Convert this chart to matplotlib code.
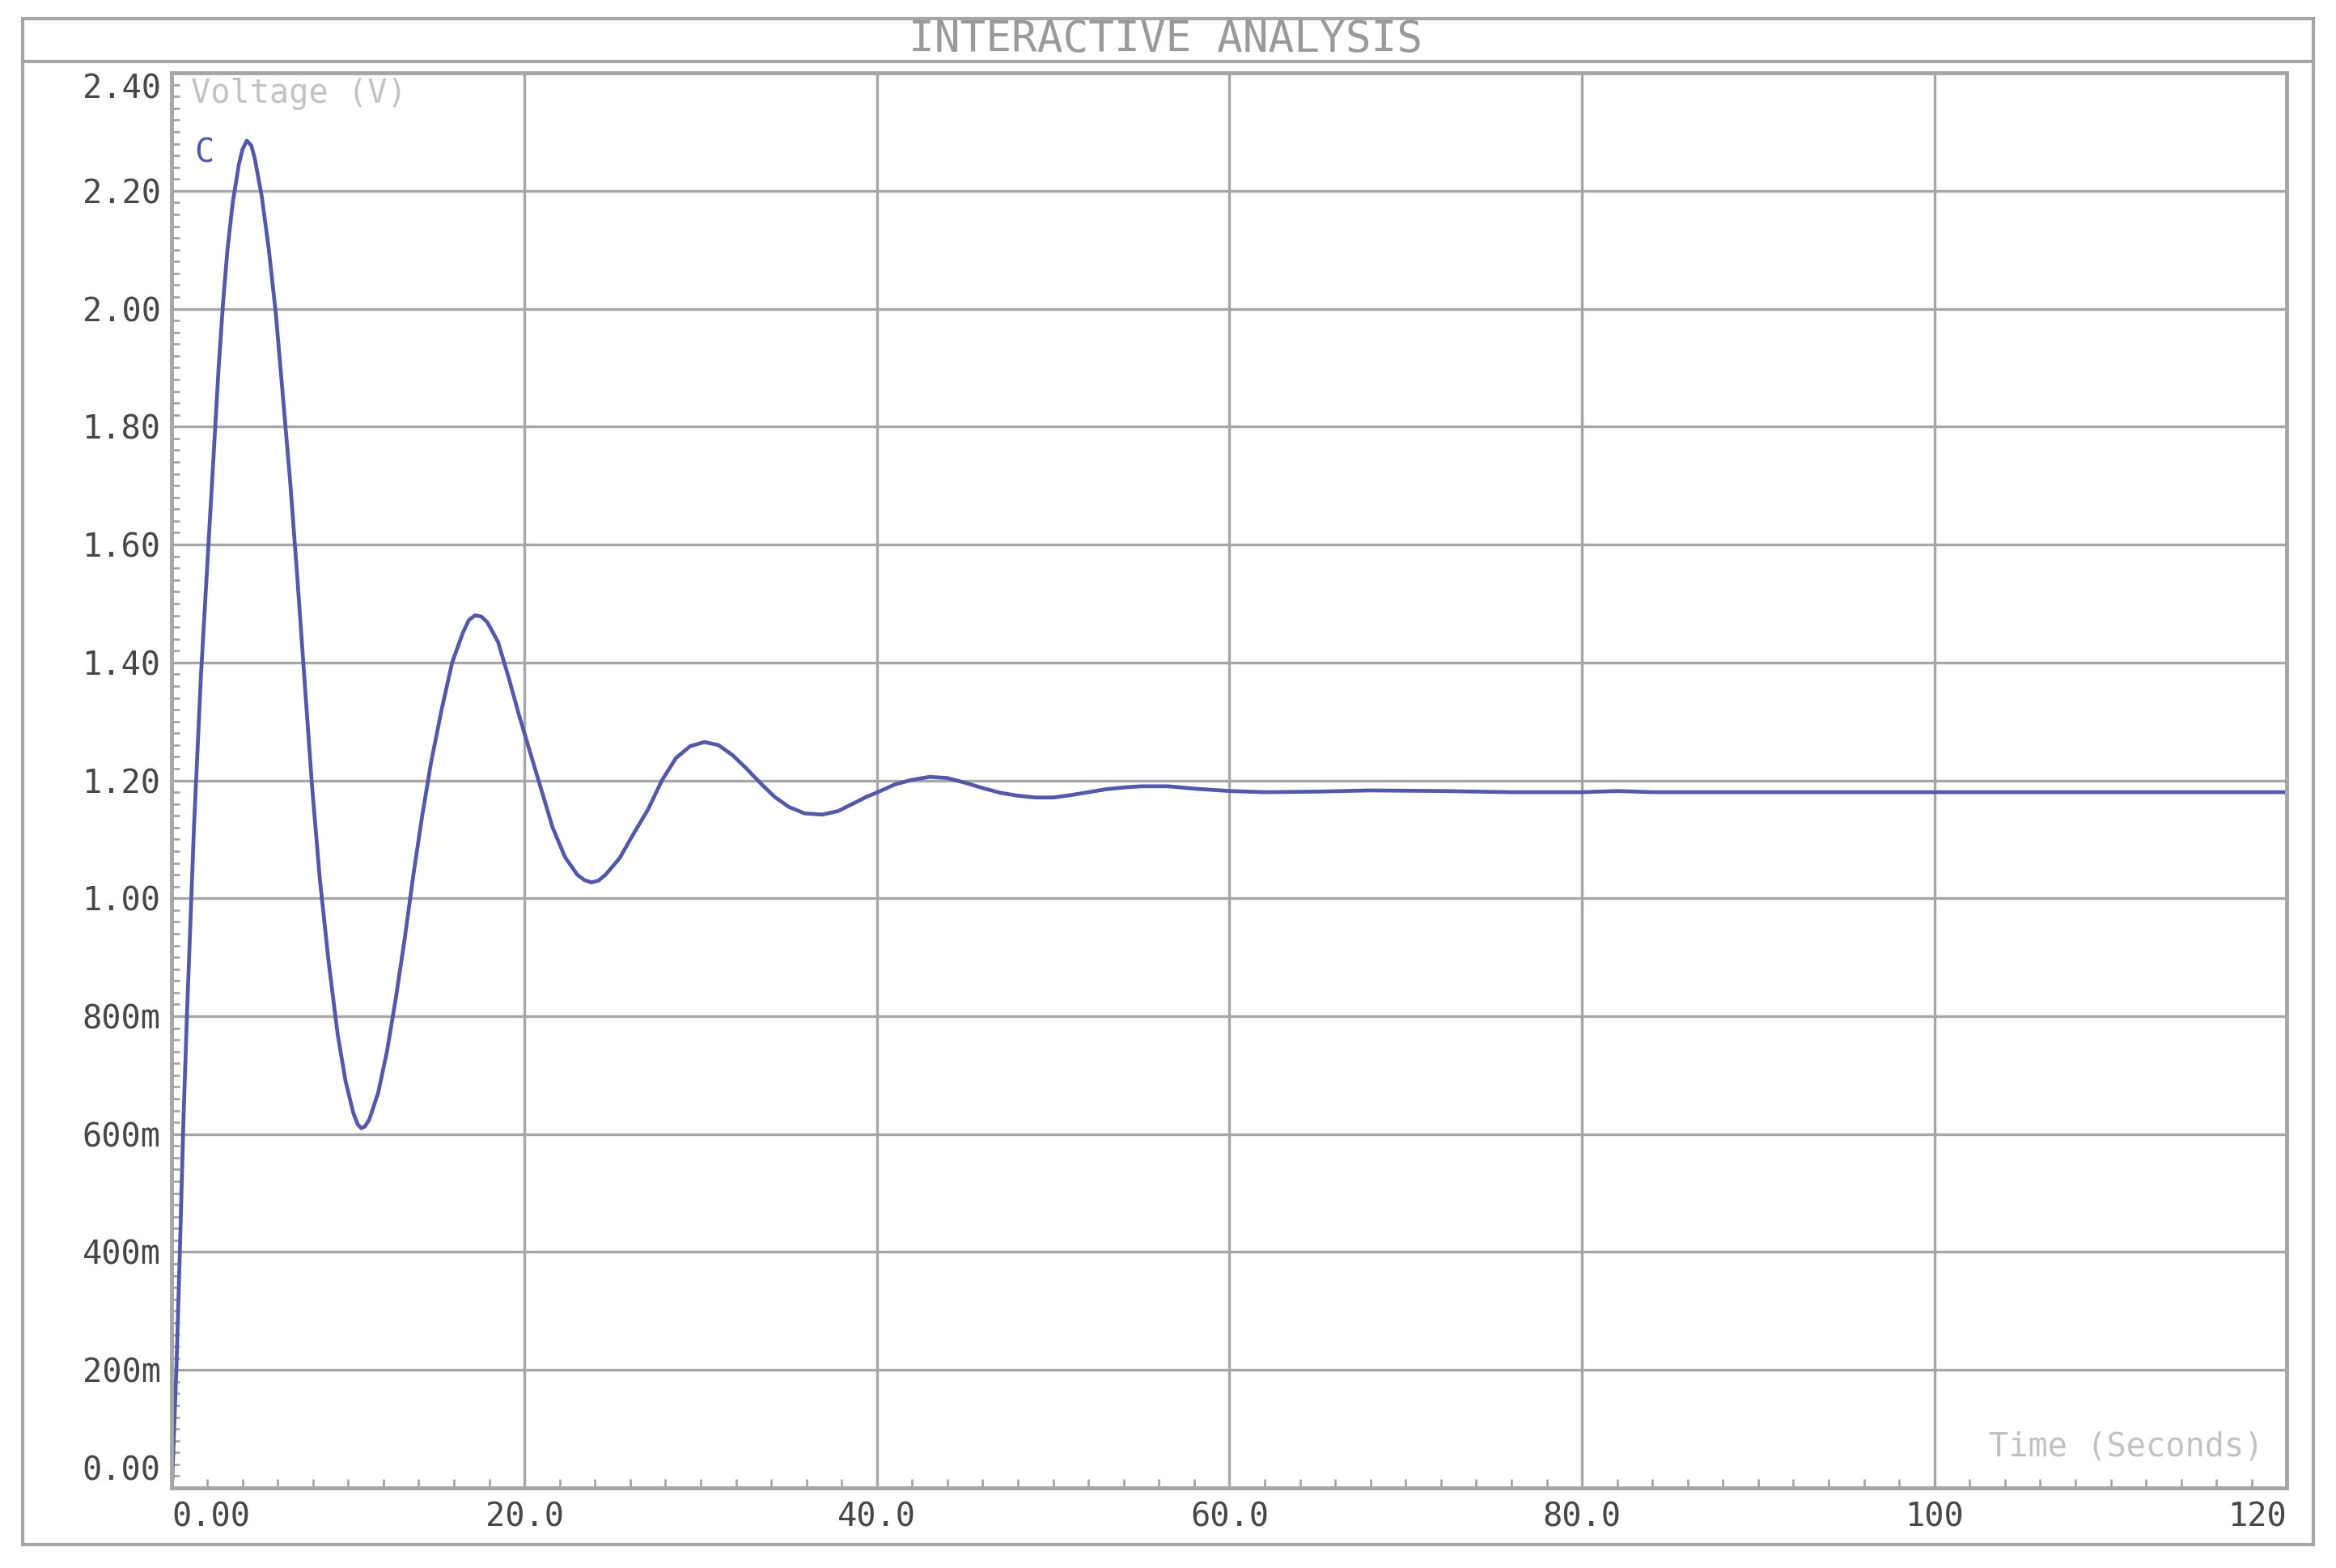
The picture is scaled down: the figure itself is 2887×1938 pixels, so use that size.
import matplotlib
matplotlib.use("Agg")
import matplotlib.pyplot as plt
from matplotlib.patches import Rectangle
from matplotlib.lines import Line2D
from matplotlib.ticker import MultipleLocator

# Datos (tiempo en s, tension en V)
tiempo = [0.0, 0.25, 0.45, 0.65, 0.85, 1.05, 1.25, 1.45, 1.65, 1.90,
          2.15, 2.40, 2.65, 2.90, 3.15, 3.45, 3.80, 4.00, 4.25, 4.50,
          4.70, 5.10,
          5.50, 5.90, 6.30, 6.70, 7.10, 7.50, 7.95, 8.40, 8.90, 9.40,
          9.85, 10.30, 10.55, 10.75, 10.95, 11.20, 11.70, 12.20, 12.70, 13.20,
          13.70, 14.20,
          14.70, 15.30, 15.90, 16.50, 16.85, 17.20, 17.55, 17.90, 18.50, 19.10,
          19.70, 20.30,
          20.90, 21.60, 22.30, 23.00, 23.40, 23.80, 24.20, 24.60, 25.40, 26.20,
          27.00, 27.80,
          28.60, 29.40, 30.20, 31.00, 31.80, 32.60, 33.40, 34.20, 35.00, 35.90,
          36.90, 37.80, 38.60, 39.40, 40.20, 41.00, 42.00, 43.00, 44.00, 45.00,
          46.00, 47.00, 48.00, 49.00, 50.00, 51.00, 52.00, 53.00, 54.00, 55.00,
          56.50, 58.00, 60.00, 62.00, 65.00, 68.00, 72.00, 76.00, 80.00, 82.00,
          84.00, 90.00, 100.0, 110.0, 120.0]
tension = [0.00, 0.20, 0.40, 0.62, 0.80, 0.96, 1.12, 1.25, 1.38, 1.51,
           1.64, 1.77, 1.90, 2.01, 2.10, 2.18, 2.245, 2.270, 2.285, 2.277,
           2.255, 2.19,
           2.10, 1.99, 1.85, 1.71, 1.55, 1.38, 1.19, 1.03, 0.89, 0.77,
           0.69, 0.635, 0.616, 0.610, 0.613, 0.625, 0.67, 0.74, 0.83, 0.93,
           1.04, 1.14,
           1.23, 1.32, 1.40, 1.45, 1.472, 1.480, 1.478, 1.468, 1.435, 1.375,
           1.31, 1.25,
           1.19, 1.12, 1.07, 1.04, 1.031, 1.027, 1.030, 1.04, 1.068, 1.11,
           1.15, 1.20,
           1.238, 1.258, 1.265, 1.26, 1.243, 1.22, 1.195, 1.172, 1.155, 1.144,
           1.142, 1.148, 1.16, 1.172, 1.182, 1.193, 1.201, 1.206, 1.204, 1.196,
           1.187, 1.179, 1.174, 1.171, 1.171, 1.175, 1.180, 1.185, 1.188, 1.190,
           1.190, 1.186, 1.182, 1.180, 1.181, 1.183, 1.182, 1.180, 1.180, 1.182,
           1.180, 1.180, 1.180, 1.180, 1.180]

x_ticks = [0, 20, 40, 60, 80, 100, 120]
x_labels = ["0.00", "20.0", "40.0", "60.0", "80.0", "100", "120"]
y_ticks = [0.0, 0.2, 0.4, 0.6, 0.8, 1.0, 1.2, 1.4, 1.6, 1.8, 2.0, 2.2, 2.4]
y_labels = ["0.00", "200m", "400m", "600m", "800m", "1.00", "1.20",
            "1.40", "1.60", "1.80", "2.00", "2.20", "2.40"]

GRIS = "#a6a6a6"
TEXTO = "#474747"
AZUL = "#5458a8"
FUENTE = "DejaVu Sans Mono"

fig = plt.figure(figsize=(28.87, 19.38), dpi=100)
ax = fig.add_axes([0.0736, 0.0511, 0.9054, 0.9024])

ax.plot(tiempo, tension, color=AZUL, lw=3.4)

ax.set_xlim(0, 120)
ax.set_ylim(0, 2.4)
ax.set_xticks(x_ticks, x_labels)
ax.set_yticks(y_ticks, y_labels)
ax.xaxis.set_minor_locator(MultipleLocator(2))
ax.yaxis.set_minor_locator(MultipleLocator(0.02))
ax.grid(True, which="major", color=GRIS, lw=2.4)
ax.tick_params(which="major", length=0, labelsize=29, labelcolor=TEXTO)
ax.tick_params(axis="y", which="major", pad=10)
ax.tick_params(axis="x", which="major", pad=12)
ax.tick_params(which="minor", direction="in", color=GRIS, width=2)
ax.tick_params(axis="x", which="minor", length=8)
ax.tick_params(axis="y", which="minor", length=7)
for s in ax.spines.values():
    s.set_color(GRIS)
    s.set_linewidth(3.5)

for lab in ax.get_xticklabels() + ax.get_yticklabels():
    lab.set_fontfamily(FUENTE)
ax.get_xticklabels()[0].set_ha("left")
ax.get_xticklabels()[-1].set_ha("right")
ax.get_yticklabels()[0].set_va("bottom")
ax.get_yticklabels()[-1].set_va("top")

ax.text(0.009, 0.985, "Voltage (V)", transform=ax.transAxes, ha="left",
        va="center", fontsize=29, color="#c2c2c2", family=FUENTE)
ax.text(0.989, 0.029, "Time (Seconds)", transform=ax.transAxes, ha="right",
        va="center", fontsize=29, color="#c2c2c2", family=FUENTE)
ax.text(0.0151, 0.943, "C", transform=ax.transAxes, ha="center",
        va="center", fontsize=29, color=AZUL, family=FUENTE)

# Marco exterior y banda del titulo
fig.patches.append(Rectangle((0.0097, 0.015), 0.9806, 0.973,
                             transform=fig.transFigure, fill=False,
                             edgecolor=GRIS, lw=3))
fig.lines.append(Line2D([0.0097, 0.9903], [0.961, 0.961],
                        transform=fig.transFigure, color=GRIS, lw=3))
fig.text(0.4988, 0.9745, "INTERACTIVE ANALYSIS", ha="center", va="center",
         fontsize=38, color="#9a9a9a", family=FUENTE)

fig.savefig("out.png", dpi=100, facecolor="white")
